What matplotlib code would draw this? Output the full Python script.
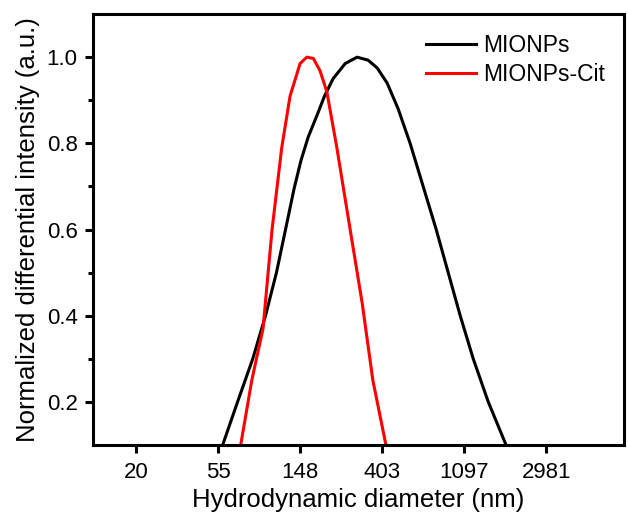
import numpy as np
import matplotlib
matplotlib.use("Agg")
import matplotlib.pyplot as plt
from matplotlib import ticker

plt.rcParams["font.family"] = ["Liberation Sans", "DejaVu Sans"]

# MIONPs (nm, normalized intensity)
d_mionps = [50.7, 57.8, 69.3, 83.4, 97.4, 111.3, 124.3, 138.0, 150.0, 164.0, 182.0,
            200.0, 221.9, 256.9, 297.3, 340.0, 379.7, 428.8, 490.4, 567.4, 665.1,
            779.6, 902.4, 1044.5, 1224.1, 1470.0, 1825.6, 2171]
i_mionps = [0.0, 0.10, 0.20, 0.30, 0.40, 0.50, 0.60, 0.695, 0.76, 0.815, 0.864,
            0.91, 0.95, 0.985, 1.0, 0.993, 0.975, 0.94, 0.88, 0.80, 0.70,
            0.60, 0.50, 0.40, 0.30, 0.20, 0.10, 0.0]

# MIONPs-Cit
d_cit = [64.8, 72.0, 82.4, 94.5, 105.5, 118.7, 131.4, 148.4, 161.1, 174.5,
         189.4, 205.6, 232.3, 273.2, 316.1, 360.3, 422.4, 473]
i_cit = [0.0, 0.10, 0.25, 0.37, 0.60, 0.79, 0.91, 0.985, 1.0, 0.997,
         0.968, 0.92, 0.79, 0.60, 0.43, 0.25, 0.10, 0.0]

x_ticks = [20.09, 54.6, 148.4, 403.4, 1096.6, 2981.0]
x_labels = ["20", "55", "148", "403", "1097", "2981"]

fig = plt.figure(figsize=(6.28, 5.21), dpi=100)
ax = fig.add_axes([0.148, 0.146, 0.846, 0.827])

ax.plot(d_mionps, i_mionps, color="black", lw=2.2, label="MIONPs")
ax.plot(d_cit, i_cit, color="red", lw=2.2, label="MIONPs-Cit")

ax.set_xscale("log")
ax.set_xlim(np.exp(2.476), np.exp(8.95))
ax.set_ylim(0.1, 1.1)
ax.set_xticks(x_ticks)
ax.set_xticklabels(x_labels)
ax.xaxis.set_minor_locator(ticker.NullLocator())
ax.yaxis.set_major_locator(ticker.FixedLocator([0.2, 0.4, 0.6, 0.8, 1.0]))
ax.yaxis.set_major_formatter(ticker.FormatStrFormatter("%.1f"))
ax.yaxis.set_minor_locator(ticker.FixedLocator([0.3, 0.5, 0.7, 0.9]))

for s in ax.spines.values():
    s.set_linewidth(2.2)
ax.tick_params(which="major", direction="out", length=6, width=2.2, labelsize=16)
ax.tick_params(axis="x", which="major", pad=6)
ax.tick_params(axis="y", which="major", pad=5)
ax.tick_params(which="minor", direction="out", length=3.5, width=2.2)

ax.set_xlabel("Hydrodynamic diameter (nm)", fontsize=18.5, labelpad=4)
ax.set_ylabel("Normalized differential intensity (a.u.)", fontsize=18.5, labelpad=5)

ax.legend(loc="upper right", frameon=False, fontsize=16.5, handlelength=2.2,
          handletextpad=0.3, borderaxespad=0.45, labelspacing=0.3)

fig.savefig("out.png", dpi=100)
